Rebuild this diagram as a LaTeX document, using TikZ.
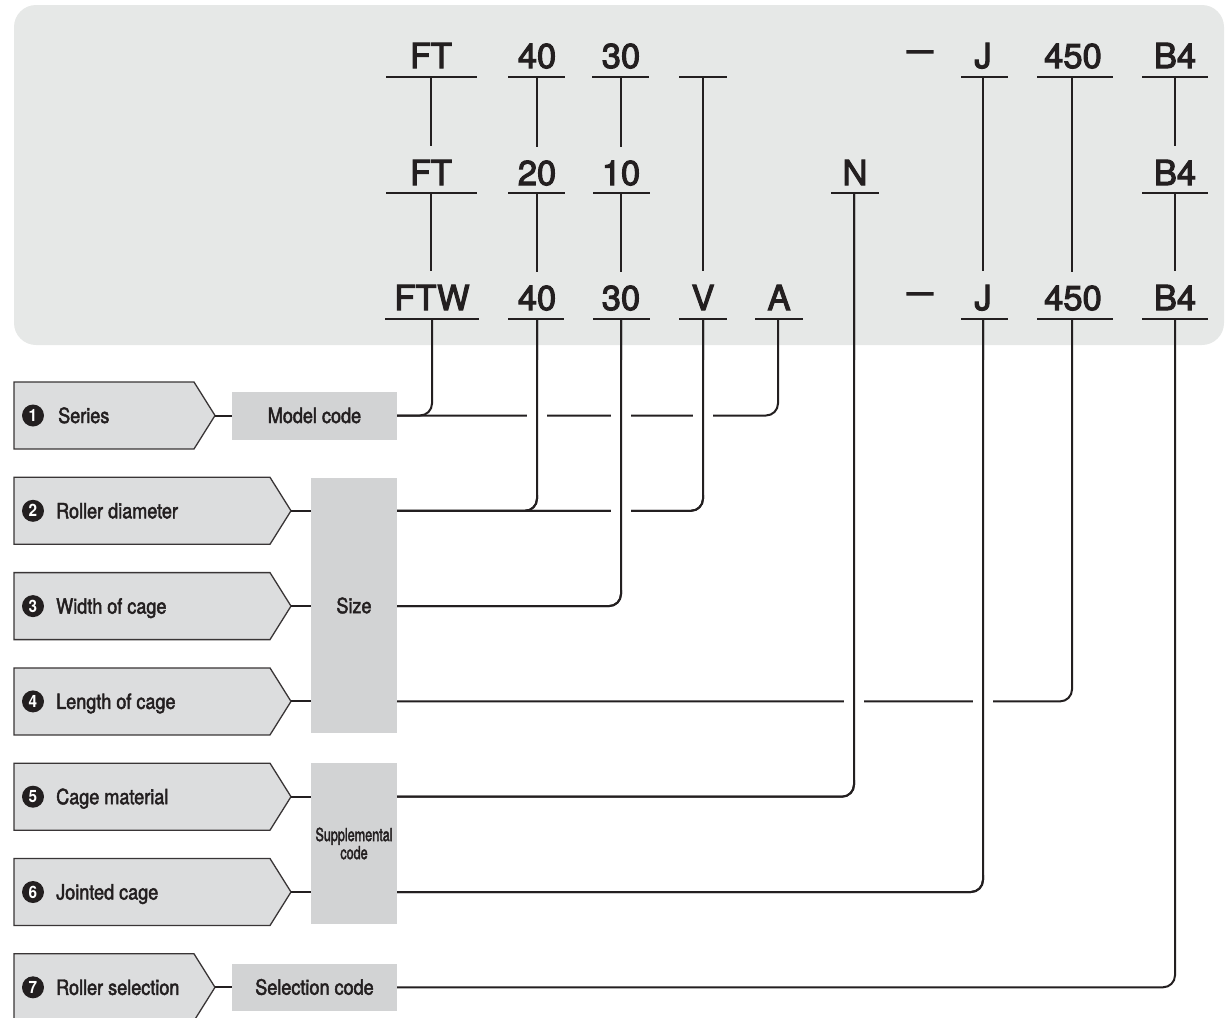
\documentclass[tikz,border=0pt]{standalone}
\usepackage{fontspec}
\usepackage{graphicx}
\setmainfont{TeX Gyre Heros}
\newfontfamily\codefont[FakeBold=3]{TeX Gyre Heros}
\newfontfamily\labfont[FakeStretch=0.86,FakeBold=2.2]{TeX Gyre Heros}
\newfontfamily\numfont[FakeStretch=0.9]{TeX Gyre Heros}
\newfontfamily\supfont[FakeStretch=0.70,FakeBold=2]{TeX Gyre Heros}
\usetikzlibrary{calc}
\definecolor{panel}{HTML}{E6E8E7}
\definecolor{pentfill}{HTML}{DCDDDE}
\definecolor{boxfill}{HTML}{D2D3D4}
\definecolor{ink}{HTML}{231F20}
\tikzset{
  code/.style={font=\codefont\fontsize{34.5}{40}\selectfont, anchor=base, inner xsep=0pt, inner ysep=13.5pt, text=ink},
  ul/.style={draw=ink, line width=2pt},
  vl/.style={draw=ink, line width=1.5pt},
  conn/.style={draw=ink, line width=2pt, rounded corners=12pt},
  halo/.style={draw=white, line width=20pt},
  pent/.style={draw=ink!90, line width=1.3pt, fill=pentfill, line join=miter},
  num/.style={circle, fill=ink, text=white, minimum size=22pt, inner sep=0pt, font=\numfont\bfseries\fontsize{17}{17}\selectfont},
  lab/.style={anchor=base west, inner sep=0pt, text=ink, font=\labfont\fontsize{21}{24}\selectfont},
  gbox/.style={fill=boxfill, inner sep=0pt, text=ink, font=\labfont\fontsize{21}{24}\selectfont},
}
\begin{document}
\begin{tikzpicture}[x=1pt,y=-1pt]
\useasboundingbox (0,0) rectangle (1225,1017);
\fill[panel, rounded corners=22pt] (14,5) rectangle (1224,345);

% ---- row 1 ----
\node[code] (r1FT) at (431,68) {FT};
\node[code] (r1a) at (537,68) {40};
\node[code] (r1b) at (621,68) {30};
\node[code] (r1d) at (920,68) {\raisebox{6.5pt}{\scalebox{1.35}[1]{–}}};
\node[code] (r1J) at (983,68) {J};
\node[code] (r1L) at (1073,68) {450};
\node[code] (r1B) at (1175,68) {B4};
\draw[ul] (386,77) -- (477,77);
\draw[ul] (508,77) -- (565,77);
\draw[ul] (592,77) -- (649,77);
\draw[ul] (679,77) -- (727,77);
\draw[ul] (961,77) -- (1008,77);
\draw[ul] (1037,77) -- (1113,77);
\draw[ul] (1142,77) -- (1208,77);
\coordinate (u1FT) at (431,77);
\coordinate (u1a) at (537,77);
\coordinate (u1b) at (621,77);
\coordinate (u1V) at (703,77);
\coordinate (u1J) at (983,77);
\coordinate (u1L) at (1072,77);
\coordinate (u1B) at (1175,77);

% ---- row 2 ----
\node[code] (r2FT) at (431,185) {FT};
\node[code] (r2a) at (537,185) {20};
\node[code] (r2b) at (621,185) {10};
\node[code] (r2N) at (855,185) {N};
\node[code] (r2B) at (1175,185) {B4};
\draw[ul] (386,193) -- (477,193);
\draw[ul] (508,193) -- (565,193);
\draw[ul] (593,193) -- (650,193);
\draw[ul] (831,193) -- (879,193);
\draw[ul] (1142,193) -- (1208,193);
\coordinate (u2FT) at (431,193);
\coordinate (u2a) at (537,193);
\coordinate (u2b) at (621,193);
\coordinate (u2N) at (854,193);
\coordinate (u2B) at (1175,193);

% ---- row 3 ----
\node[code] (r3FT) at (432,310) {FTW};
\node[code] (r3a) at (537,310) {40};
\node[code] (r3b) at (621,310) {30};
\node[code] (r3V) at (703,310) {V};
\node[code] (r3A) at (779,310) {A};
\node[code] (r3d) at (920,310) {\raisebox{6.5pt}{\scalebox{1.35}[1]{–}}};
\node[code] (r3J) at (983,310) {J};
\node[code] (r3L) at (1073,310) {450};
\node[code] (r3B) at (1175,310) {B4};
\draw[ul] (385,319) -- (479,319);
\draw[ul] (508,319) -- (564,319);
\draw[ul] (593,319) -- (650,319);
\draw[ul] (679,319) -- (727,319);
\draw[ul] (755,319) -- (803,319);
\draw[ul] (961,319) -- (1008,319);
\draw[ul] (1037,319) -- (1113,319);
\draw[ul] (1142,319) -- (1208,319);
\coordinate (u3FT) at (432,319);
\coordinate (u3a) at (537,319);
\coordinate (u3b) at (621,319);
\coordinate (u3V) at (703,319);
\coordinate (u3A) at (778,319);
\coordinate (u3J) at (983,319);
\coordinate (u3L) at (1072,319);
\coordinate (u3B) at (1175,319);

% ---- verticals inside panel ----
\draw[vl] (u1FT) -- (u1FT |- r2FT.north);
\draw[vl] (u1a) -- (u1a |- r2a.north);
\draw[vl] (u1b) -- (u1b |- r2b.north);
\draw[vl] (u1B) -- (u1B |- r2B.north);
\draw[vl] (u2FT) -- (u2FT |- r3FT.north);
\draw[vl] (u2a) -- (u2a |- r3a.north);
\draw[vl] (u2b) -- (u2b |- r3b.north);
\draw[vl] (u2B) -- (u2B |- r3B.north);
\draw[vl] (u1V) -- (u1V |- r3V.north);
\draw[vl] (u1J) -- (u1J |- r3J.north);
\draw[vl] (u1L) -- (u1L |- r3L.north);

% ---- left pentagons ----
\draw[pent] (14,382) -- (194,382) -- (215,415.5) -- (194,449) -- (14,449) -- cycle;
\draw[pent] (14,477.3) -- (270,477.3) -- (291,510.8) -- (270,544.3) -- (14,544.3) -- cycle;
\draw[pent] (14,572.6) -- (270,572.6) -- (291,606.1) -- (270,639.6) -- (14,639.6) -- cycle;
\draw[pent] (14,667.9) -- (270,667.9) -- (291,701.4) -- (270,734.9) -- (14,734.9) -- cycle;
\draw[pent] (14,763.2) -- (270,763.2) -- (291,796.7) -- (270,830.2) -- (14,830.2) -- cycle;
\draw[pent] (14,858.5) -- (270,858.5) -- (291,892) -- (270,925.5) -- (14,925.5) -- cycle;
\draw[pent] (14,953.8) -- (194,953.8) -- (215,987.3) -- (194,1020.8) -- (14,1020.8) -- cycle;
\coordinate (p1) at (215,415.5);
\coordinate (p2) at (291,510.8);
\coordinate (p3) at (291,606.1);
\coordinate (p4) at (291,701.4);
\coordinate (p5) at (291,796.7);
\coordinate (p6) at (291,892);
\coordinate (p7) at (215,987.3);

\node[num] (n1) at (33,415.5) {1};
\node[num] (n2) at (33,510.8) {2};
\node[num] (n3) at (33,606.1) {3};
\node[num] (n4) at (33,701.4) {4};
\node[num] (n5) at (33,796.7) {5};
\node[num] (n6) at (33,892) {6};
\node[num] (n7) at (33,987.3) {7};
\node[lab] (t1) at (58,423) {Series};
\node[lab] (t2) at (56,518.3) {Roller diameter};
\node[lab] (t3) at (56,613.6) {Width of cage};
\node[lab] (t4) at (56,708.9) {Length of cage};
\node[lab] (t5) at (56,804.2) {Cage material};
\node[lab] (t6) at (56,899.5) {Jointed cage};
\node[lab] (t7) at (56,994.8) {Roller selection};

% ---- grey boxes ----
\node[gbox, minimum width=165pt, minimum height=48pt] (model) at (314.5,415.5) {Model code};
\node[gbox, minimum width=86pt, minimum height=255pt] (size) at (354,605.5) {Size};
\node[gbox, minimum width=86pt, minimum height=161pt, align=center,
      font=\supfont\fontsize{18}{17}\selectfont] (supp) at (354,843.5) {Supplemental\\code};
\node[gbox, minimum width=165pt, minimum height=47pt] (sel) at (314.5,987) {Selection code};

\draw[conn] (p1) -- (model.west);
\draw[conn] (p2) -- (p2 -| size.west);
\draw[conn] (p3) -- (p3 -| size.west);
\draw[conn] (p4) -- (p4 -| size.west);
\draw[conn] (p5) -- (p5 -| supp.west);
\draw[conn] (p6) -- (p6 -| supp.west);
\draw[conn] (p7) -- (p7 -| sel.west);

% ---- connectors ----
\coordinate (s2) at (p2 -| size.east);
\coordinate (s3) at (p3 -| size.east);
\coordinate (s4) at (p4 -| size.east);
\coordinate (s5) at (p5 -| supp.east);
\coordinate (s6) at (p6 -| supp.east);
\coordinate (s7) at (p7 -| sel.east);

\draw[conn] (u3FT) |- (model.east);
\draw[conn] (model.east) -| (u3A);
\draw[conn] (u3a) |- (s2);
\draw[conn] (s2) -| (u3V);
\draw[conn] (s3) -| (u3b);
\draw[conn] (s4) -| (u3L);
\draw[conn] (s5) -| (u2N);
\draw[conn] (s6) -| (u3J);
\draw[conn] (s7) -| (u3B);

% gaps where lines cross
\draw[halo] (537,360) -- (537,495);
\draw[halo] (703,360) -- (703,495);
\draw[conn] (u3a) |- (s2);
\draw[conn] (s2) -| (u3V);
\draw[halo] (621,360) -- (621,590);
\draw[conn] (s3) -| (u3b);
\draw[halo] (854,360) -- (854,780);
\draw[halo] (983,360) -- (983,875);
\draw[conn] (s5) -| (u2N);
\draw[conn] (s6) -| (u3J);
\end{tikzpicture}
\end{document}
